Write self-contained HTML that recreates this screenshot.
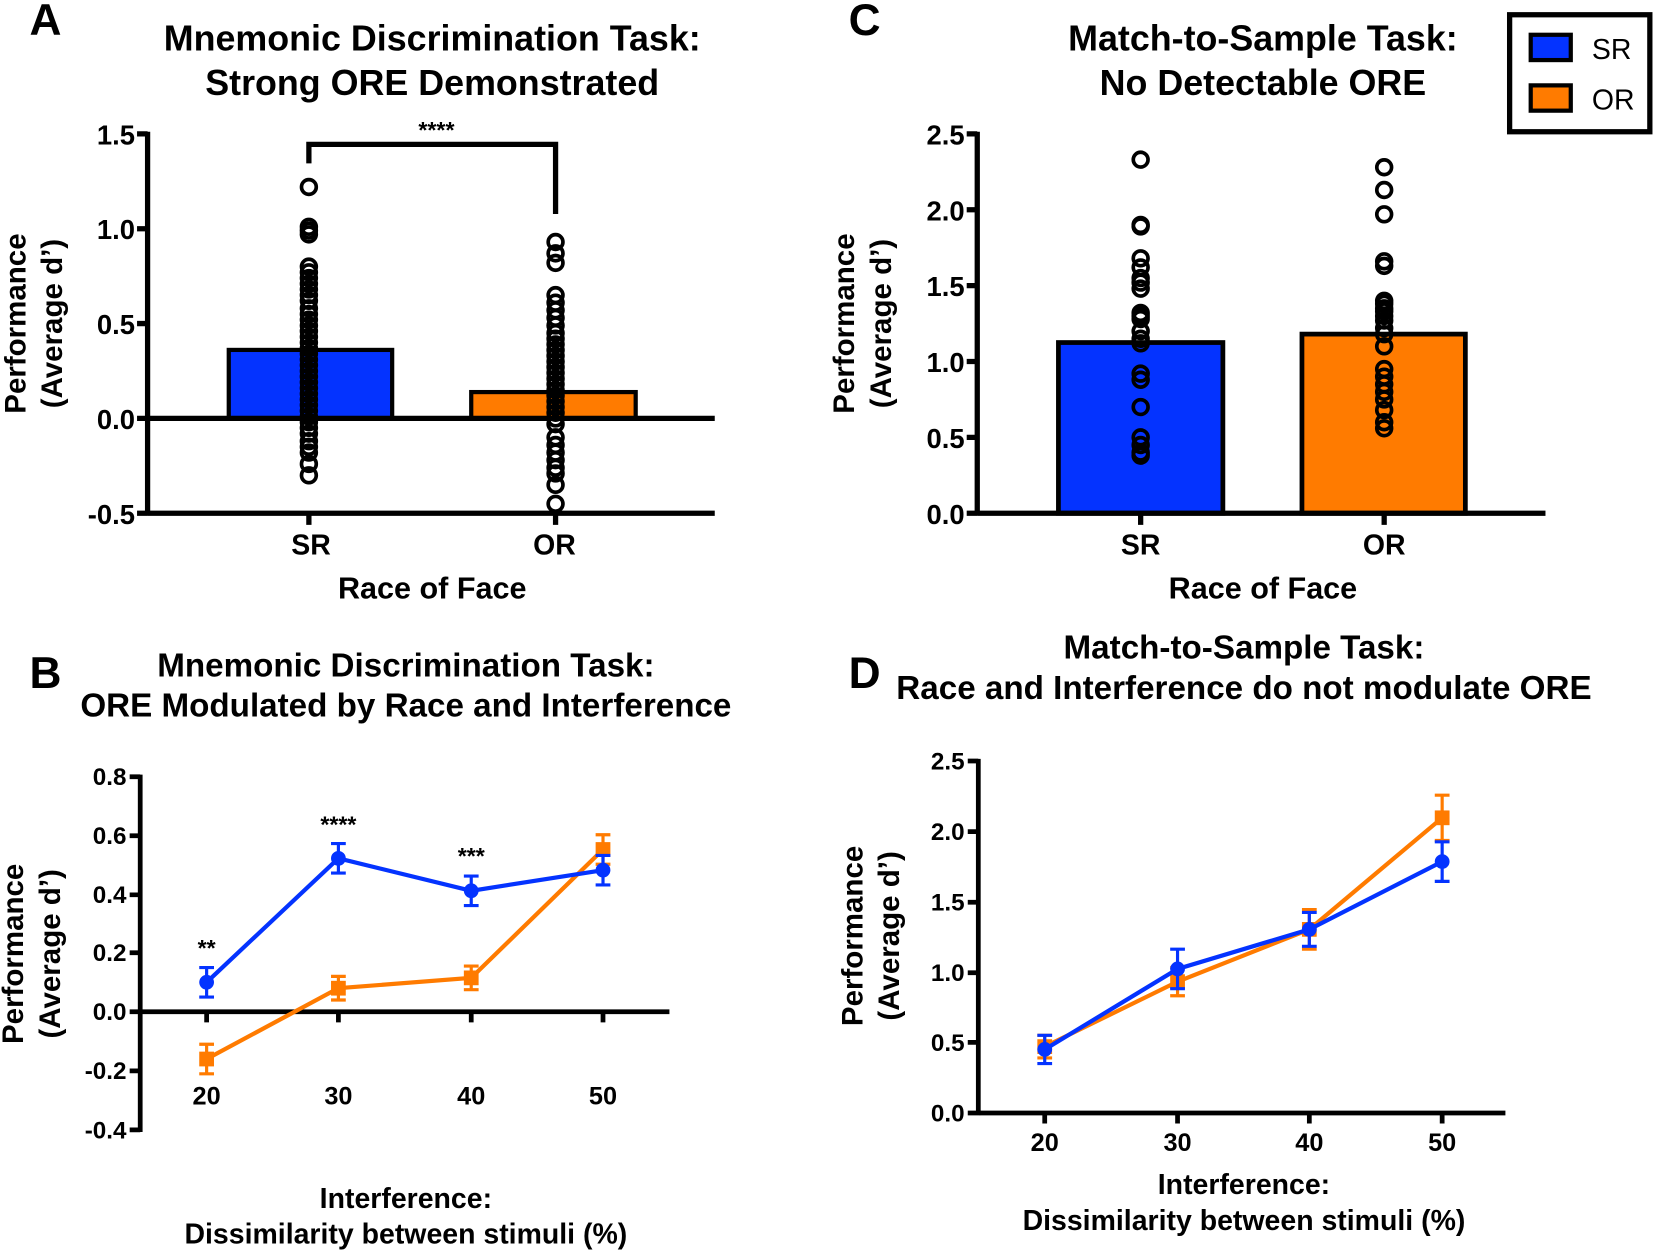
<!DOCTYPE html>
<html><head><meta charset="utf-8"><style>
html,body{margin:0;padding:0;background:#fff}
svg{display:block}
text{font-family:"Liberation Sans",Arial,sans-serif;font-weight:bold;fill:#000}
</style></head><body>
<svg id="s" width="1653" height="1250" viewBox="0 0 1568 1186" preserveAspectRatio="none" xmlns="http://www.w3.org/2000/svg">
<!-- Panel A -->
<text x="28" y="33" font-size="42">A</text>
<text x="410" y="48" font-size="34" text-anchor="middle">Mnemonic Discrimination Task:</text>
<text x="410" y="90" font-size="34" text-anchor="middle">Strong ORE Demonstrated</text>
<rect x="217" y="332" width="155" height="65" fill="#0433ff" stroke="#000" stroke-width="4"/>
<rect x="447" y="372" width="156" height="25" fill="#ff7b00" stroke="#000" stroke-width="4"/>
<g stroke="#000" stroke-width="5" fill="none">
<path d="M140 125V489M130 127H140M130 217H140M130 307H140M130 397H140M130 487H140"/>
<path d="M140 397H678M140 487H678M293 487V498M527 487V498"/>
<path d="M293 155V137H527V203"/>
</g>
<g font-size="26" text-anchor="end">
<text x="128" y="137">1.5</text><text x="128" y="227">1.0</text><text x="128" y="317">0.5</text><text x="128" y="407">0.0</text><text x="128" y="497">-0.5</text>
</g>
<text x="414" y="131" font-size="22" text-anchor="middle">****</text>
<text x="295" y="526" font-size="27" text-anchor="middle">SR</text>
<text x="526" y="526" font-size="27" text-anchor="middle">OR</text>
<text x="410" y="568" font-size="29" text-anchor="middle">Race of Face</text>
<text transform="translate(24,307) rotate(-90)" font-size="28" text-anchor="middle">Performance</text>
<text transform="translate(59,307) rotate(-90)" font-size="28" text-anchor="middle">(Average d’)</text>
<g id="ptsA" fill="none" stroke="#000" stroke-width="3.5"></g>

<!-- Panel C -->
<text x="805" y="33" font-size="42">C</text>
<text x="1198" y="48" font-size="34" text-anchor="middle">Match-to-Sample Task:</text>
<text x="1198" y="90" font-size="34" text-anchor="middle">No Detectable ORE</text>
<rect x="1004" y="325" width="156" height="162" fill="#0433ff" stroke="#000" stroke-width="4.5"/>
<rect x="1235" y="317" width="155" height="170" fill="#ff7b00" stroke="#000" stroke-width="4.5"/>
<g stroke="#000" stroke-width="5" fill="none">
<path d="M927 125V489M917 127H927M917 199H927M917 271H927M917 343H927M917 415H927M917 487H927"/>
<path d="M927 487H1466M1082 487V498M1313 487V498"/>
<rect x="1432" y="14" width="133" height="111"/>
</g>
<g font-size="26" text-anchor="end">
<text x="915" y="137">2.5</text><text x="915" y="209">2.0</text><text x="915" y="281">1.5</text><text x="915" y="353">1.0</text><text x="915" y="425">0.5</text><text x="915" y="497">0.0</text>
</g>
<text x="1082" y="526" font-size="27" text-anchor="middle">SR</text>
<text x="1313" y="526" font-size="27" text-anchor="middle">OR</text>
<text x="1198" y="568" font-size="29" text-anchor="middle">Race of Face</text>
<text transform="translate(810,307) rotate(-90)" font-size="28" text-anchor="middle">Performance</text>
<text transform="translate(845,307) rotate(-90)" font-size="28" text-anchor="middle">(Average d’)</text>
<g id="ptsC" fill="none" stroke="#000" stroke-width="3.5"></g>
<rect x="1452" y="33" width="38" height="24" fill="#0433ff" stroke="#000" stroke-width="4"/>
<rect x="1452" y="81" width="38" height="24" fill="#ff7b00" stroke="#000" stroke-width="4"/>
<text x="1510" y="56" font-size="27" style="font-weight:normal">SR</text>
<text x="1510" y="104" font-size="27" style="font-weight:normal">OR</text>

<!-- Panel B -->
<text x="28" y="653" font-size="42">B</text>
<text x="385" y="642" font-size="31.5" text-anchor="middle">Mnemonic  Discrimination Task:</text>
<text x="385" y="680" font-size="31.5" text-anchor="middle">ORE Modulated by Race and Interference</text>
<g stroke="#000" stroke-width="4.5" fill="none">
<path d="M133 735V1074M123 737H133M123 793H133M123 849H133M123 904H133M123 960H133M123 1016H133M123 1072H133"/>
<path d="M133 960H635M196 960V970M321 960V970M447 960V970M572 960V970"/>
</g>
<g font-size="23" text-anchor="end">
<text x="120" y="745">0.8</text><text x="120" y="801">0.6</text><text x="120" y="857">0.4</text><text x="120" y="912">0.2</text><text x="120" y="968">0.0</text><text x="120" y="1024">-0.2</text><text x="120" y="1080">-0.4</text>
</g>
<g font-size="24" text-anchor="middle">
<text x="196" y="1048">20</text><text x="321" y="1048">30</text><text x="447" y="1048">40</text><text x="572" y="1048">50</text>
</g>
<g font-size="22" text-anchor="middle">
<text x="196" y="907">**</text><text x="321" y="790">****</text><text x="447" y="820">***</text>
</g>
<text x="385" y="1146" font-size="27" text-anchor="middle">Interference:</text>
<text x="385" y="1180" font-size="27" text-anchor="middle">Dissimilarity between stimuli (%)</text>
<text transform="translate(22,905) rotate(-90)" font-size="28" text-anchor="middle">Performance</text>
<text transform="translate(57,905) rotate(-90)" font-size="28" text-anchor="middle">(Average d’)</text>
<g id="lineB"></g>

<!-- Panel D -->
<text x="805" y="653" font-size="42">D</text>
<text x="1180" y="625" font-size="31.5" text-anchor="middle">Match-to-Sample Task:</text>
<text x="1180" y="663" font-size="31.5" text-anchor="middle">Race and Interference do not modulate ORE</text>
<g stroke="#000" stroke-width="4.5" fill="none">
<path d="M928 720V1058M918 722H928M918 789H928M918 856H928M918 923H928M918 989H928M918 1056H928"/>
<path d="M928 1056H1428M991 1056V1066M1117 1056V1066M1242 1056V1066M1368 1056V1066"/>
</g>
<g font-size="23" text-anchor="end">
<text x="915" y="730">2.5</text><text x="915" y="797">2.0</text><text x="915" y="864">1.5</text><text x="915" y="931">1.0</text><text x="915" y="997">0.5</text><text x="915" y="1064">0.0</text>
</g>
<g font-size="24" text-anchor="middle">
<text x="991" y="1092">20</text><text x="1117" y="1092">30</text><text x="1242" y="1092">40</text><text x="1368" y="1092">50</text>
</g>
<text x="1180" y="1133" font-size="27" text-anchor="middle">Interference:</text>
<text x="1180" y="1167" font-size="27" text-anchor="middle">Dissimilarity between stimuli (%)</text>
<text transform="translate(818,888) rotate(-90)" font-size="28" text-anchor="middle">Performance</text>
<text transform="translate(853,888) rotate(-90)" font-size="28" text-anchor="middle">(Average d’)</text>
<g id="lineD"></g>
</svg>
<script>
var NS="http://www.w3.org/2000/svg";
function el(p,t,a){var e=document.createElementNS(NS,t);for(var k in a)e.setAttribute(k,a[k]);p.appendChild(e);return e;}
var gA=document.getElementById("ptsA");
var srA=[1.22,1.01,0.99,0.97,0.80,0.77,0.74,0.71,0.68,0.65,0.62,0.58,0.55,0.52,0.49,0.46,0.43];
for(var v=0.40;v>-0.09;v-=0.03)srA.push(v);
srA=srA.concat([-0.12,-0.15,-0.18,-0.24,-0.30]);
srA.forEach(function(v){el(gA,"circle",{cx:293,cy:397-180*v,r:7});});
var orA=[0.93,0.87,0.82,0.65,0.61,0.57,0.53,0.49];
for(var v=0.45;v>-0.06;v-=0.03)orA.push(v);
orA=orA.concat([-0.1,-0.14,-0.18,-0.22,-0.26,-0.29,-0.35,-0.45]);
orA.forEach(function(v){el(gA,"circle",{cx:527,cy:397-180*v,r:7});});
var gC=document.getElementById("ptsC");
[2.33,1.9,1.89,1.68,1.62,1.55,1.52,1.48,1.32,1.3,1.28,1.2,1.15,1.12,0.92,0.88,0.7,0.5,0.45,0.4,0.38].forEach(function(v){el(gC,"circle",{cx:1082,cy:487-144*v,r:7});});
[2.28,2.13,1.97,1.66,1.63,1.4,1.38,1.35,1.33,1.3,1.27,1.22,1.18,1.1,0.95,0.9,0.85,0.8,0.75,0.68,0.6,0.56].forEach(function(v){el(gC,"circle",{cx:1313,cy:487-144*v,r:7});});
function series(g,xs,vals,errs,y0,k,col,sq){
  var pts=xs.map(function(x,i){return [x,y0-k*vals[i]];});
  el(g,"polyline",{points:pts.map(function(p){return p.join(",");}).join(" "),fill:"none",stroke:col,"stroke-width":4});
  pts.forEach(function(p,i){var e=errs[i]*k;
    el(g,"path",{d:"M"+p[0]+" "+(p[1]-e)+"V"+(p[1]+e)+"M"+(p[0]-7)+" "+(p[1]-e)+"H"+(p[0]+7)+"M"+(p[0]-7)+" "+(p[1]+e)+"H"+(p[0]+7),stroke:col,"stroke-width":3,fill:"none"});
    if(sq)el(g,"rect",{x:p[0]-7,y:p[1]-7,width:14,height:14,fill:col});
    else el(g,"circle",{cx:p[0],cy:p[1],r:7,fill:col});
  });
}
var gB=document.getElementById("lineB");
var xb=[196,321,447,572];
series(gB,xb,[-0.16,0.08,0.115,0.55],[0.05,0.04,0.04,0.05],960,280,"#ff7b00",true);
series(gB,xb,[0.10,0.52,0.41,0.48],[0.05,0.05,0.05,0.05],960,280,"#0433ff",false);
var gD=document.getElementById("lineD");
var xd=[991,1117,1242,1368];
series(gD,xd,[0.47,0.93,1.3,2.09],[0.08,0.1,0.14,0.16],1056,134,"#ff7b00",true);
series(gD,xd,[0.45,1.02,1.3,1.78],[0.1,0.14,0.12,0.14],1056,134,"#0433ff",false);
</script>
</body></html>
